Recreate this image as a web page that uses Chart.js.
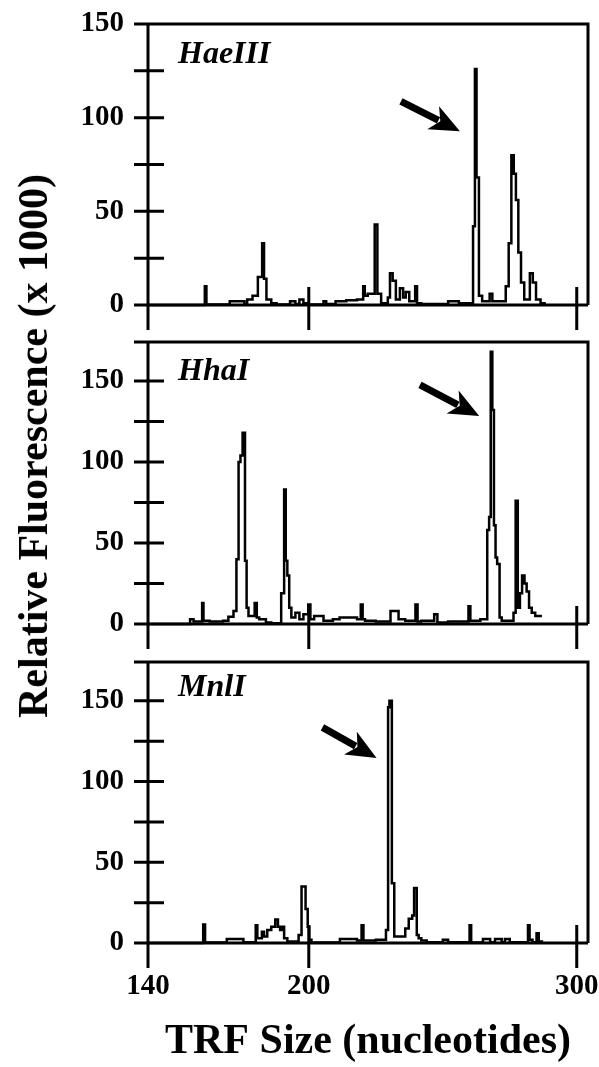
<!DOCTYPE html>
<html lang="en">
<head>
<meta charset="UTF-8">
<title>TRF profiles</title>
<script src="https://cdn.jsdelivr.net/npm/chart.js"></script>
<style>
  body { margin: 0; background: #fff; }
  #wrap { position: relative; width: 599px; height: 1067px; overflow: hidden; }
  canvas { position: absolute; left: 0; }
  .ytitle {
    position: absolute; left: 33px; top: 446px;
    transform: translate(-50%, -50%) rotate(-90deg);
    white-space: nowrap;
    font: bold 42px "Liberation Serif", serif;
    color: #000;
  }
</style>
</head>
<body>
<div id="wrap">
  <canvas id="hae" width="599" height="340" style="top:0px"></canvas>
  <canvas id="hha" width="599" height="330" style="top:330px"></canvas>
  <canvas id="mnl" width="599" height="417" style="top:650px"></canvas>
  <div class="ytitle">Relative Fluorescence (x 1000)</div>
</div>
<script>
// tick labels
const xTicks = [140, 200, 300];
const xTickMarks = [200, 300];
const yTicks = [0, 50, 100, 150];

// HaeIII trace: bin start (nt) and fluorescence (x 1000)
const haeSize = [140, 161.2, 161.8, 170.5, 176, 177, 179, 181, 182.6, 183.3, 184.2, 186, 188, 193, 195, 196.5, 198, 200,
  205.5, 206.5, 210, 214, 218, 220.3, 220.9, 222, 224.6, 225.6, 227, 229.5, 230.3, 231.3, 232.5, 234, 235.2, 236.2, 237.5,
  239.7, 240.4, 242, 252, 256, 261.3, 262, 262.6, 263.5, 264.7, 267.5, 268.5, 272, 273.5, 274.6, 275.6, 276.5, 277.3,
  278.2, 279.2, 280.4, 282.5, 283.6, 284.8, 286.5, 288];
const haeValue = [0, 10, 0.3, 2, 0.5, 3, 5, 15, 33, 14, 3, 1, 0.3, 2, 0.5, 3, 1, 0.3,
  2, 0.5, 2, 2.5, 3, 10, 5, 6, 43, 6, 1, 4, 17, 13, 3, 9, 4, 7, 2,
  10, 1, 0.5, 2, 1, 42, 126, 68, 5, 2, 6, 2, 2, 10, 33, 80, 70, 56,
  28, 12, 3, 17, 12, 3, 1, 0];

// HhaI trace
const hhaSize = [140, 155.7, 157, 160.2, 160.7, 163, 168, 170, 171.9, 173, 173.8, 174.5, 175.3, 176.2, 176.8, 177.5,
  179.8, 180.6, 181.5, 184, 186, 189.7, 190.8, 191.4, 192, 192.7, 193.5, 195, 196.5, 198, 199.8, 200.6, 202, 205.5,
  209, 211.5, 218, 219.4, 220.1, 221, 225, 230.5, 233.5, 236, 239.8, 240.6, 242, 246.8, 248, 252, 259.6, 260.3, 264,
  266.6, 267.3, 267.9, 268.5, 269.1, 269.7, 270.3, 271.2, 272, 276.4, 277.2, 278, 278.8, 279.6, 280.5, 281.3, 282.2,
  283.2, 284.5, 287];
const hhaValue = [0, 3, 1.5, 13, 2, 1.5, 2, 4.5, 8, 40, 100, 104, 118, 39, 10, 5,
  13, 4, 3, 1, 0.5, 19, 83, 39, 30, 10, 4, 7, 3, 6, 12, 3, 5, 2,
  3, 4, 3, 12, 3, 2, 1.5, 8, 3, 2, 12, 1.5, 2, 6, 1, 1.5, 11, 2, 3,
  58, 66, 168, 132, 61, 41, 37, 4, 2, 7, 76, 10, 19, 30, 25, 20, 10,
  7, 5, 5];

// MnlI trace
const mnlSize = [140, 160.6, 161.3, 169.4, 175.6, 180.2, 180.8, 182.5, 183.3, 184.5, 186, 187.5, 188.5, 189.3, 190,
  190.8, 192, 196.2, 197.3, 198.8, 199.6, 200.2, 201, 211.6, 218, 219.7, 220.4, 225, 228.8, 229.6, 230.1, 231, 231.9,
  236, 237.3, 238.6, 239.3, 240.3, 241, 242, 244, 250, 252, 260, 260.6, 265, 267.7, 269.5, 272, 273.2, 275, 281.8,
  282.4, 283.5, 285, 285.8, 287];
const mnlValue = [0, 11.5, 0.3, 2.5, 0.5, 11, 3, 7, 4, 8, 10, 14.5, 10, 8, 10,
  3, 1, 5, 35, 21, 10, 2, 0.3, 2.5, 1.5, 11, 1.5, 2, 8, 146, 150, 37, 4,
  9, 15, 17, 34, 5, 3, 1.5, 0.5, 2, 0.5, 11, 0.3, 2.5, 0.5, 2.5, 0.5, 2.5, 0.5, 11,
  2, 0.5, 6, 1, 0];

// arrow annotations: [tail, tip] in (nt, fluorescence)
const haeArrow = [[234.4, 108.7], [256.4, 92.7]];
const hhaArrow = [[241.5, 147.5], [263.6, 128.4]];
const mnlArrow = [[205.1, 133.5], [225.3, 114.6]];

Chart.defaults.font.family = '"Liberation Serif", serif';
Chart.defaults.font.weight = 'bold';
Chart.defaults.font.size = 29;
Chart.defaults.color = '#000';

// frame, crossing ticks, enzyme name and arrow
const framePlugin = {
  id: 'frame',
  afterDatasetsDraw(chart, args, opts) {
    const { ctx, chartArea: a, scales: { x, y } } = chart;
    ctx.save();
    ctx.strokeStyle = '#000';
    ctx.lineWidth = 3;
    ctx.beginPath();
    ctx.moveTo(a.left - 14, a.top); ctx.lineTo(a.right, a.top); ctx.lineTo(a.right, a.bottom);
    ctx.moveTo(a.left - 14, a.bottom); ctx.lineTo(a.right, a.bottom);
    ctx.moveTo(a.left, a.top); ctx.lineTo(a.left, a.bottom + 25);
    for (let v = 25; v <= 150; v += 25) {
      const py = y.getPixelForValue(v);
      ctx.moveTo(a.left - 14, py); ctx.lineTo(a.left + 16, py);
    }
    for (const v of xTickMarks) {
      const px = x.getPixelForValue(v);
      ctx.moveTo(px, a.bottom - 18); ctx.lineTo(px, a.bottom + 25);
    }
    ctx.stroke();

    ctx.fillStyle = '#000';
    ctx.font = 'italic bold 32px "Liberation Serif", serif';
    ctx.textBaseline = 'alphabetic';
    ctx.fillText(opts.label, a.left + 30, a.top + opts.labelDy);

    // arrow
    const x0 = x.getPixelForValue(opts.arrow[0][0]), y0 = y.getPixelForValue(opts.arrow[0][1]);
    const x1 = x.getPixelForValue(opts.arrow[1][0]), y1 = y.getPixelForValue(opts.arrow[1][1]);
    const ang = Math.atan2(y1 - y0, x1 - x0);
    const head = 30, half = 13;
    ctx.lineWidth = 7;
    ctx.beginPath();
    ctx.moveTo(x0, y0);
    ctx.lineTo(x1 - Math.cos(ang) * (head - 6), y1 - Math.sin(ang) * (head - 6));
    ctx.stroke();
    ctx.translate(x1, y1);
    ctx.rotate(ang);
    ctx.beginPath();
    ctx.moveTo(0, 0);
    ctx.lineTo(-head, -half);
    ctx.lineTo(-head + 8, 0);
    ctx.lineTo(-head, half);
    ctx.closePath();
    ctx.fill();
    ctx.restore();
  }
};

function makePanel(id, label, sizes, values, yMax, arrow, padTop, axisH, showX, labelDy) {
  return new Chart(document.getElementById(id), {
    type: 'line',
    data: {
      datasets: [{
        data: sizes.map((s, i) => ({ x: s, y: values[i] })),
        borderColor: '#000',
        borderWidth: 2.5,
        pointRadius: 0,
        stepped: true,
        fill: false,
        clip: false
      }]
    },
    options: {
      responsive: false,
      animation: false,
      layout: { padding: { top: padTop, right: 11, bottom: 0, left: 0 } },
      plugins: {
        legend: { display: false },
        tooltip: { enabled: false },
        frame: { label: label, arrow: arrow, labelDy: labelDy }
      },
      scales: {
        x: {
          type: 'linear',
          min: 140,
          max: 304.2,
          grid: { display: false, drawTicks: false },
          border: { display: false },
          afterBuildTicks: s => { s.ticks = xTicks.map(v => ({ value: v })); },
          afterFit: s => { s.height = axisH; s.paddingLeft = 0; s.paddingRight = 0; },
          ticks: { display: showX, padding: 26, maxRotation: 0, autoSkip: false },
          title: {
            display: showX,
            text: 'TRF Size (nucleotides)',
            font: { size: 42, weight: 'bold' },
            padding: { top: 0, bottom: 0 }
          }
        },
        y: {
          min: 0,
          max: yMax,
          grid: { display: false, drawTicks: false },
          border: { display: false },
          afterBuildTicks: s => { s.ticks = yTicks.map(v => ({ value: v })); },
          afterFit: s => { s.width = 148; s.paddingTop = 0; s.paddingBottom = 0; },
          ticks: { padding: 24 }
        }
      }
    },
    plugins: [framePlugin]
  });
}

makePanel('hae', 'HaeIII', haeSize, haeValue, 150, haeArrow, 24, 35, false, 39);
makePanel('hha', 'HhaI', hhaSize, hhaValue, 174, hhaArrow, 12, 36, false, 38);
makePanel('mnl', 'MnlI', mnlSize, mnlValue, 174, mnlArrow, 12, 124, true, 34);
</script>
</body>
</html>
